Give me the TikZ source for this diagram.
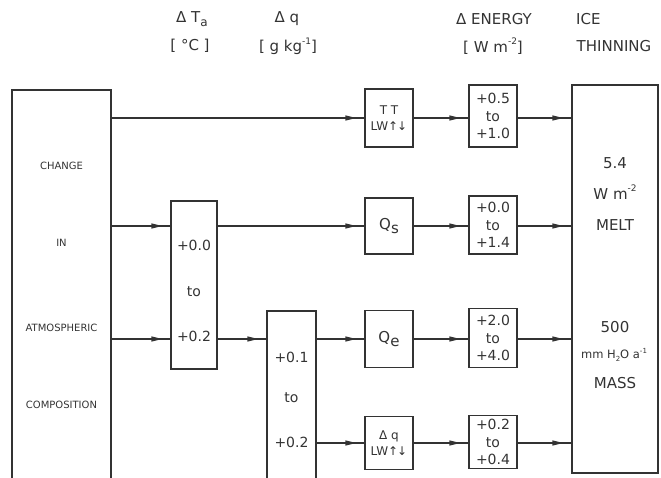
\documentclass[tikz,border=0pt]{standalone}
\usepackage{fontspec}
\setmainfont{DejaVu Sans}
\usetikzlibrary{arrows.meta}
\definecolor{ink}{HTML}{333333}
\tikzset{
  box/.style={draw=ink, line width=1.2pt, inner sep=0pt, align=center},
  lbl/.style={text=ink, inner sep=0pt, align=center},
  tipstyle/.style={-{Triangle[length=11pt,width=5pt]}},
  conn/.style={draw=ink, line width=1.2pt,
    postaction={draw=ink, line width=1.2pt, tipstyle, shorten >=8pt}},
  hdr/.style={lbl, font=\fontsize{15}{17}\selectfont},
  small/.style={lbl, font=\fontsize{10}{12}\selectfont},
  num/.style={lbl, font=\fontsize{14}{17}\selectfont},
  big/.style={lbl, font=\fontsize{15}{17}\selectfont},
  ebox/.style={box, text=ink, font=\fontsize{14}{17.5}\selectfont, minimum width=48pt},
  qbox/.style={box, text=ink, minimum width=48pt},
}
\newcommand{\ud}{↑\kern-1pt↓}
\begin{document}
\begin{tikzpicture}[x=1pt,y=-1pt]
\useasboundingbox (0,0) rectangle (661,478);
\clip (0,0) rectangle (661,478);
% headers
\node[hdr] (hTa) at (192,19) {Δ T\raisebox{-0.45ex}{\fontsize{12}{12}\selectfont a}};
\node[hdr] (hTau) at (190,46) {[ °C ]};
\node[hdr] (hq) at (287,19) {Δ q};
\node[hdr] (hqu) at (288,46) {[ g kg\raisebox{0.9ex}{\fontsize{9}{9}\selectfont -1}]};
\node[hdr] (hE) at (494,19) {Δ ENERGY};
\node[hdr] (hEu) at (493,46) {[ W m\raisebox{0.9ex}{\fontsize{9}{9}\selectfont -2}]};
\node[hdr, anchor=west] (hI) at (576,19) {ICE};
\node[hdr] (hT) at (614,46) {THINNING};
% left box
\node[box, minimum width=99pt, minimum height=400pt] (left) at (61.5,290) {};
\node[small] (l1) at (61.5,166) {CHANGE};
\node[small] (l2) at (61.5,243) {IN};
\node[small] (l3) at (61.5,328) {ATMOSPHERIC};
\node[small] (l4) at (61.5,405) {COMPOSITION};
% Ta box
\node[box, minimum width=46pt, minimum height=168pt] (ta) at (194,285) {};
\node[num] (ta1) at (194,245) {+0.0};
\node[num] (ta2) at (194,292) {to};
\node[num] (ta3) at (194,336) {+0.2};
% dq box
\node[box, minimum width=49pt, minimum height=179pt] (dq) at (291.5,400.5) {};
\node[num] (dq1) at (291.5,357) {+0.1};
\node[num] (dq2) at (291.5,398) {to};
\node[num] (dq3) at (291.5,442) {+0.2};
% process boxes
\node[qbox, minimum height=58pt, font=\fontsize{12}{16}\selectfont] (tt) at (389,118) {T T\\LW\ud};
\node[qbox, minimum height=56pt, font=\fontsize{15}{17}\selectfont] (qs) at (389,226) {Q\raisebox{-0.55ex}{s}};
\node[qbox, minimum height=57pt, font=\fontsize{15}{17}\selectfont] (qe) at (389,339) {Q\raisebox{-0.55ex}{e}};
\node[qbox, minimum height=53pt, font=\fontsize{12}{16}\selectfont] (dqlw) at (389,443) {Δ q\\LW\ud};
% energy boxes
\node[ebox, minimum height=62pt] (e1) at (493,116) {+0.5\\to\\+1.0};
\node[ebox, minimum height=58pt] (e2) at (493,225) {+0.0\\to\\+1.4};
\node[ebox, minimum height=59pt] (e3) at (493,338) {+2.0\\to\\+4.0};
\node[ebox, minimum height=53pt] (e4) at (493,442) {+0.2\\to\\+0.4};
% right box
\node[box, minimum width=86pt, minimum height=388pt] (right) at (615,279) {};
\node[big] (r1) at (615,163) {5.4};
\node[big] (r2) at (615,192) {W m\raisebox{0.9ex}{\fontsize{9}{9}\selectfont -2}};
\node[big] (r3) at (615,225) {MELT};
\node[big] (r4) at (615,327) {500};
\node[lbl, font=\fontsize{11.5}{13}\selectfont] (r5) at (614,355) {mm H\raisebox{-0.45ex}{\fontsize{7}{7}\selectfont 2}O a\raisebox{0.9ex}{\fontsize{7}{7}\selectfont -1}};
\node[big] (r6) at (615,383) {MASS};
% connectors
\draw[conn] (left.east |- tt.west) -- (tt.west);
\draw[conn] (left.east |- qs.west) -- (ta.west |- qs.west);
\draw[conn] (left.east |- qe.west) -- (ta.west |- qe.west);
\draw[conn] (ta.east |- qs.west) -- (qs.west);
\draw[conn] (ta.east |- qe.west) -- (dq.west |- qe.west);
\draw[conn] (dq.east |- qe.west) -- (qe.west);
\draw[conn] (dq.east |- dqlw.west) -- (dqlw.west);
\draw[conn] (tt.east) -- (e1.west |- tt.east);
\draw[conn] (qs.east) -- (e2.west |- qs.east);
\draw[conn] (qe.east) -- (e3.west |- qe.east);
\draw[conn] (dqlw.east) -- (e4.west |- dqlw.east);
\draw[conn] (e1.east |- tt.east) -- (right.west |- tt.east);
\draw[conn] (e2.east |- qs.east) -- (right.west |- qs.east);
\draw[conn] (e3.east |- qe.east) -- (right.west |- qe.east);
\draw[conn] (e4.east |- dqlw.east) -- (right.west |- dqlw.east);
\end{tikzpicture}
\end{document}
